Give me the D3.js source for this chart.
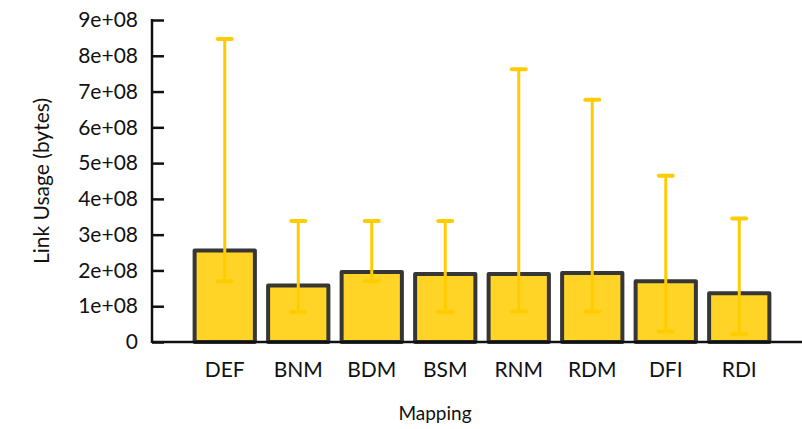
<!DOCTYPE html>
<html>
<head>
<meta charset="utf-8">
<script src="https://cdn.jsdelivr.net/npm/d3@7"></script>
<style>
  body { margin: 0; background: #fff; }
  text { font-family: Lato, "Open Sans", sans-serif; fill: #111; }
</style>
</head>
<body>
<svg id="chart" width="802" height="429"></svg>
<script>
var mappings = ["DEF", "BNM", "BDM", "BSM", "RNM", "RDM", "DFI", "RDI"];
var meanUsage = [2.56e8, 1.58e8, 1.96e8, 1.90e8, 1.90e8, 1.93e8, 1.70e8, 1.36e8];
var lowUsage  = [1.70e8, 0.84e8, 1.70e8, 0.84e8, 0.85e8, 0.85e8, 0.29e8, 0.22e8];
var highUsage = [8.47e8, 3.38e8, 3.38e8, 3.38e8, 7.62e8, 6.77e8, 4.65e8, 3.45e8];
var yTicks = [0, 1e8, 2e8, 3e8, 4e8, 5e8, 6e8, 7e8, 8e8, 9e8];

var svg = d3.select("#chart");
var axisLeft = 152, axisRight = 802, yBottom = 342, yTop = 20;

var x = d3.scaleBand()
    .domain(mappings)
    .range([188, 776])
    .paddingInner(0.18)
    .paddingOuter(0.09);

var y = d3.scaleLinear()
    .domain([0, 9e8])
    .range([yBottom, yTop]);

var data = mappings.map(function (m, i) {
    return { name: m, mean: meanUsage[i], lo: lowUsage[i], hi: highUsage[i] };
});

// Bars
svg.append("g").selectAll("rect")
    .data(data)
    .enter()
    .append("rect")
    .attr("x", function (d) { return x(d.name); })
    .attr("y", function (d) { return y(d.mean); })
    .attr("width", x.bandwidth())
    .attr("height", function (d) { return y(0) - y(d.mean); })
    .attr("fill", "#ffd426")
    .attr("stroke", "#363636")
    .attr("stroke-width", 4)
    .attr("stroke-linejoin", "round");

// Error bars
var err = svg.append("g")
    .attr("stroke", "#ffcc00")
    .attr("stroke-linecap", "round");

err.selectAll("line.stem")
    .data(data)
    .enter()
    .append("line")
    .attr("class", "stem")
    .attr("x1", function (d) { return x(d.name) + x.bandwidth() / 2; })
    .attr("x2", function (d) { return x(d.name) + x.bandwidth() / 2; })
    .attr("y1", function (d) { return y(d.lo); })
    .attr("y2", function (d) { return y(d.hi); })
    .attr("stroke-width", 3);

["lo", "hi"].forEach(function (k) {
    err.selectAll("line.cap-" + k)
        .data(data)
        .enter()
        .append("line")
        .attr("class", "cap-" + k)
        .attr("x1", function (d) { return x(d.name) + x.bandwidth() / 2 - 7; })
        .attr("x2", function (d) { return x(d.name) + x.bandwidth() / 2 + 7; })
        .attr("y1", function (d) { return y(d[k]); })
        .attr("y2", function (d) { return y(d[k]); })
        .attr("stroke-width", 4);
});

// Y axis
var yAxis = svg.append("g")
    .attr("transform", "translate(" + axisLeft + ",0)")
    .call(d3.axisRight(y)
        .tickValues(yTicks)
        .tickSize(12)
        .tickFormat(function (d) {
            return d === 0 ? "0" : (d / 1e8) + "e+08";
        }));
yAxis.select(".domain").remove();
yAxis.selectAll(".tick line").attr("stroke", "#111").attr("stroke-width", 2.5);
yAxis.selectAll(".tick text")
    .attr("x", -14)
    .attr("text-anchor", "end")
    .style("font-size", "21px")
    .style("font-family", "Lato, sans-serif")
    .style("fill", "#111");

svg.append("line")
    .attr("x1", axisLeft).attr("x2", axisLeft)
    .attr("y1", y(9e8) - 1).attr("y2", yBottom + 1)
    .attr("stroke", "#111").attr("stroke-width", 2.5);

// X axis
svg.append("line")
    .attr("x1", axisLeft).attr("x2", axisRight)
    .attr("y1", yBottom).attr("y2", yBottom)
    .attr("stroke", "#111").attr("stroke-width", 2.5);

svg.append("g").selectAll("text")
    .data(mappings)
    .enter()
    .append("text")
    .attr("x", function (d) { return x(d) + x.bandwidth() / 2; })
    .attr("y", 377)
    .attr("text-anchor", "middle")
    .style("font-size", "21px")
    .text(function (d) { return d; });

// Axis titles
svg.append("text")
    .attr("x", 435)
    .attr("y", 420)
    .attr("text-anchor", "middle")
    .style("font-size", "19px")
    .text("Mapping");

svg.append("text")
    .attr("transform", "translate(49,181) rotate(-90)")
    .attr("text-anchor", "middle")
    .style("font-size", "21px")
    .text("Link Usage (bytes)");
</script>
</body>
</html>
